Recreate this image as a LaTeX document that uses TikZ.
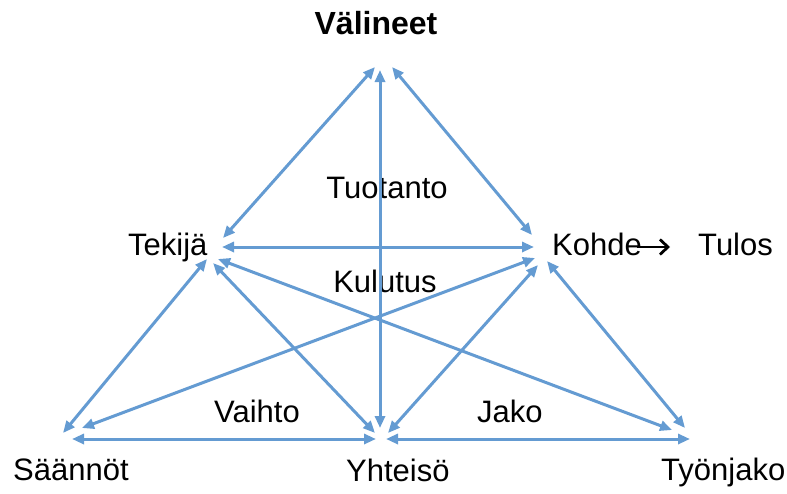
\documentclass[tikz,border=0pt]{standalone}
\usepackage{fontspec}
\setmainfont{Liberation Sans}
\usetikzlibrary{arrows.meta}
\definecolor{linkblue}{RGB}{100,155,210}
\begin{document}
\begin{tikzpicture}[x=1pt,y=-1pt,
  link/.style={draw=linkblue,line width=3pt,{Triangle[length=12pt,width=10pt]}-{Triangle[length=12pt,width=10pt]}},
  lbl/.style={inner sep=0pt,anchor=base west,font=\fontsize{31}{36}\selectfont},
  mid/.style={inner sep=0pt,anchor=base,font=\fontsize{31}{36}\selectfont}]
\useasboundingbox (0,0) rectangle (787,493);
% labels
\node[mid,font=\fontsize{32}{36}\selectfont\bfseries] (valineet) at (376,34) {Välineet};
\node[lbl] (tekija) at (128,255) {Tekijä};
\node[lbl] (kohde) at (552,255) {Kohde};
\node[lbl] (tulos) at (698,255) {Tulos};
\node[lbl] (saannot) at (13,480) {Säännöt};
\node[lbl] (yhteiso) at (346,481) {Yhteisö};
\node[lbl] (tyonjako) at (661,480) {Työnjako};
\node[mid] (tuotanto) at (387,198) {Tuotanto};
\node[mid] (kulutus) at (385,292) {Kulutus};
\node[mid] (vaihto) at (257,422) {Vaihto};
\node[lbl] (jako) at (477,422) {Jako};
% endpoints
\coordinate (vL) at (375,67);
\coordinate (vM) at (380,70);
\coordinate (vR) at (392,67);
\coordinate (tV) at (223,238);
\coordinate (tK) at (222,247);
\coordinate (tJ) at (218,259);
\coordinate (tY) at (213,263);
\coordinate (tS) at (207,259);
\coordinate (kV) at (532,235);
\coordinate (kT) at (534,247);
\coordinate (kS) at (535,258);
\coordinate (kY) at (538,265);
\coordinate (kJ) at (547,261);
\coordinate (sT) at (63,433);
\coordinate (sK) at (82,428);
\coordinate (sY) at (72,439);
\coordinate (yT) at (375,433);
\coordinate (yV) at (380,428);
\coordinate (yK) at (388,433);
\coordinate (yS) at (376,439);
\coordinate (yJ) at (386,439);
\coordinate (jK) at (685,428);
\coordinate (jT) at (672,430);
\coordinate (jY) at (690,439);
% connectors
\draw[link] (vL) -- (tV);
\draw[link] (vR) -- (kV);
\draw[link] (vM) -- (yV);
\draw[link] (tK) -- (kT);
\draw[link] (tS) -- (sT);
\draw[link] (tY) -- (yT);
\draw[link] (tJ) -- (jT);
\draw[link] (kS) -- (sK);
\draw[link] (kY) -- (yK);
\draw[link] (kJ) -- (jK);
\draw[link] (sY) -- (yS);
\draw[link] (yJ) -- (jY);
% Kohde -> Tulos
\coordinate (kt1) at (637,247);
\coordinate (kt2) at (670,247);
\draw[line width=2.8pt,-{Straight Barb[length=8pt,width=15pt,line width=2.8pt]}] (kt1) -- (kt2);
\end{tikzpicture}
\end{document}
